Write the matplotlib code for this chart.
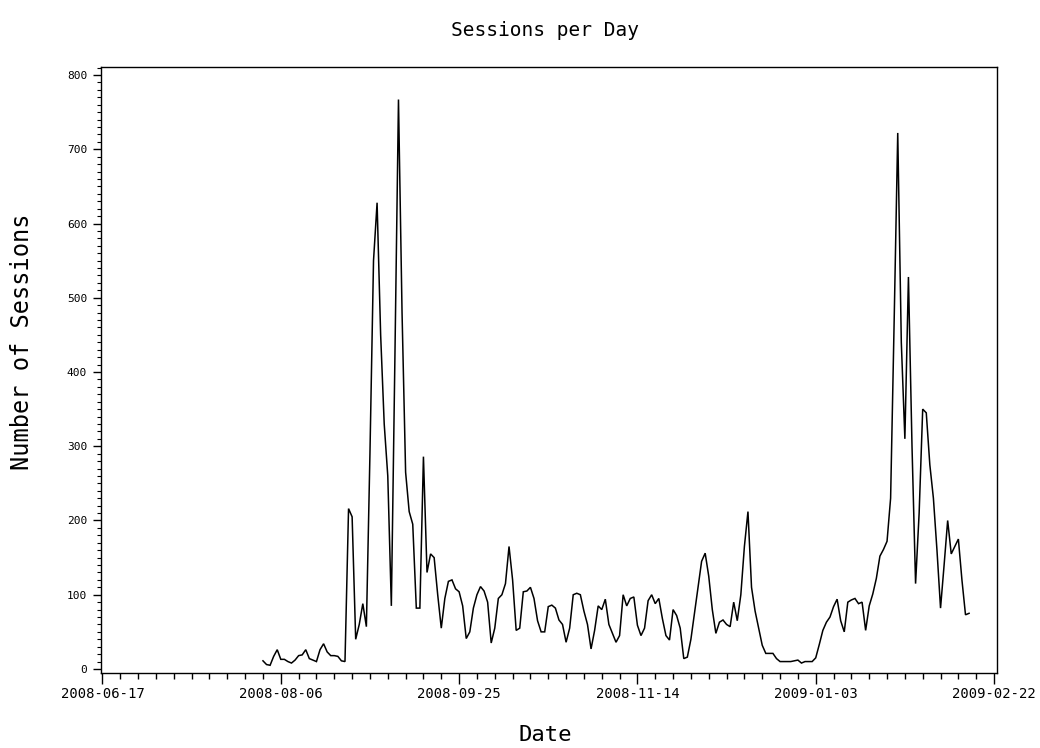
import matplotlib
matplotlib.use("Agg")
import matplotlib.pyplot as plt
import matplotlib.dates as mdates
from matplotlib.ticker import MultipleLocator
import pandas as pd

# ---- data -------------------------------------------------------------
start_date = "2008-08-01"
sessions = [
    # 2008-08-01 .. 2008-08-24
    11, 6, 5, 17, 26, 13, 13, 10, 8, 12, 18, 19, 26, 14, 12, 10, 26, 34, 23, 18, 18, 17, 11, 10,
    # 2008-08-25 .. 2008-09-20
    216, 205, 40, 60, 88, 57, 290, 550, 628, 450, 330, 260, 85, 420, 767, 480, 265, 212, 195,
    82, 82, 286, 130, 155, 150, 100, 55,
    # 2008-09-21 .. 2008-10-09
    95, 118, 120, 108, 104, 85, 41, 50, 82, 100, 111, 105, 90, 35, 55, 95, 100, 115, 165,
    # 2008-10-10 .. 2008-11-02
    120, 52, 55, 104, 105, 110, 95, 65, 50, 50, 84, 86, 82, 66, 60, 36, 55, 100, 102, 100, 78, 60, 27, 52,
    # 2008-11-03 .. 2009-01-03
    85, 80, 94, 60, 48, 36, 45, 100, 85, 95, 97, 59, 45, 55, 92, 100, 88, 95, 68, 45,
    39, 80, 72, 55, 14, 16, 40, 75, 110, 145, 156, 125, 80, 48, 63, 66, 60, 57, 90, 65,
    100, 165, 212, 110, 78, 55, 32, 21, 21, 21, 14, 10, 10, 10, 10, 11, 12, 8, 10, 10, 10, 15,
    # 2009-01-04 .. 2009-02-15
    33, 52, 63, 70, 84, 94, 65, 50, 90, 93, 95, 88, 90, 52, 85, 101, 122, 152, 161, 172,
    230, 470, 722, 440, 310, 528, 300, 115, 210, 350, 345, 275, 230, 160, 82, 140, 200, 155, 165, 175,
    120, 73, 75,
]
dates = pd.date_range(start_date, periods=len(sessions), freq="D")

x_tick_dates = ["2008-06-17", "2008-08-06", "2008-09-25", "2008-11-14", "2009-01-03", "2009-02-22"]
y_ticks = [0, 100, 200, 300, 400, 500, 600, 700, 800]

title = "Sessions per Day"
x_label = "Date"
y_label = "Number of Sessions"

# ---- figure -----------------------------------------------------------
W, H = 1040, 748
fig = plt.figure(figsize=(W / 100, H / 100), dpi=100)
ax = fig.add_axes([101 / W, 1 - 673 / H, (997 - 101) / W, (673 - 67) / H])

ax.plot(dates, sessions, color="black", linewidth=1.1, solid_joinstyle="miter")

xt = pd.to_datetime(x_tick_dates)
ax.set_xlim(xt[0] - pd.Timedelta(hours=10), xt[-1] + pd.Timedelta(hours=20))
ax.set_ylim(-5.4, 810.8)

ax.set_xticks(xt)
minor = pd.date_range(xt[0], xt[-1], freq="5D")
ax.set_xticks(minor, minor=True)
ax.xaxis.set_major_formatter(mdates.DateFormatter("%Y-%m-%d"))

ax.set_yticks(y_ticks)
ax.yaxis.set_minor_locator(MultipleLocator(10))

mono = "DejaVu Sans Mono"
for lbl in ax.get_xticklabels():
    lbl.set_fontfamily(mono)
    lbl.set_fontsize(10)
for lbl in ax.get_yticklabels():
    lbl.set_fontfamily(mono)
    lbl.set_fontsize(8)

ax.tick_params(axis="x", which="major", direction="out", length=8, width=1, pad=2)
ax.tick_params(axis="x", which="minor", direction="out", length=4, width=1)
ax.tick_params(axis="y", which="major", direction="out", length=6, width=1, pad=4)
ax.tick_params(axis="y", which="minor", direction="out", length=3, width=0.8)
for s in ax.spines.values():
    s.set_linewidth(1.0)
    s.set_color("black")

fig.text(545 / W, 1 - 30 / H, title, ha="center", va="center", fontsize=14, family=mono)
fig.text(545 / W, 1 - 735 / H, x_label, ha="center", va="center", fontsize=16, family=mono)
fig.text(22 / W, 1 - 342 / H, y_label, ha="center", va="center", fontsize=17,
         family=mono, rotation=90)

fig.savefig("out.png", dpi=100)
